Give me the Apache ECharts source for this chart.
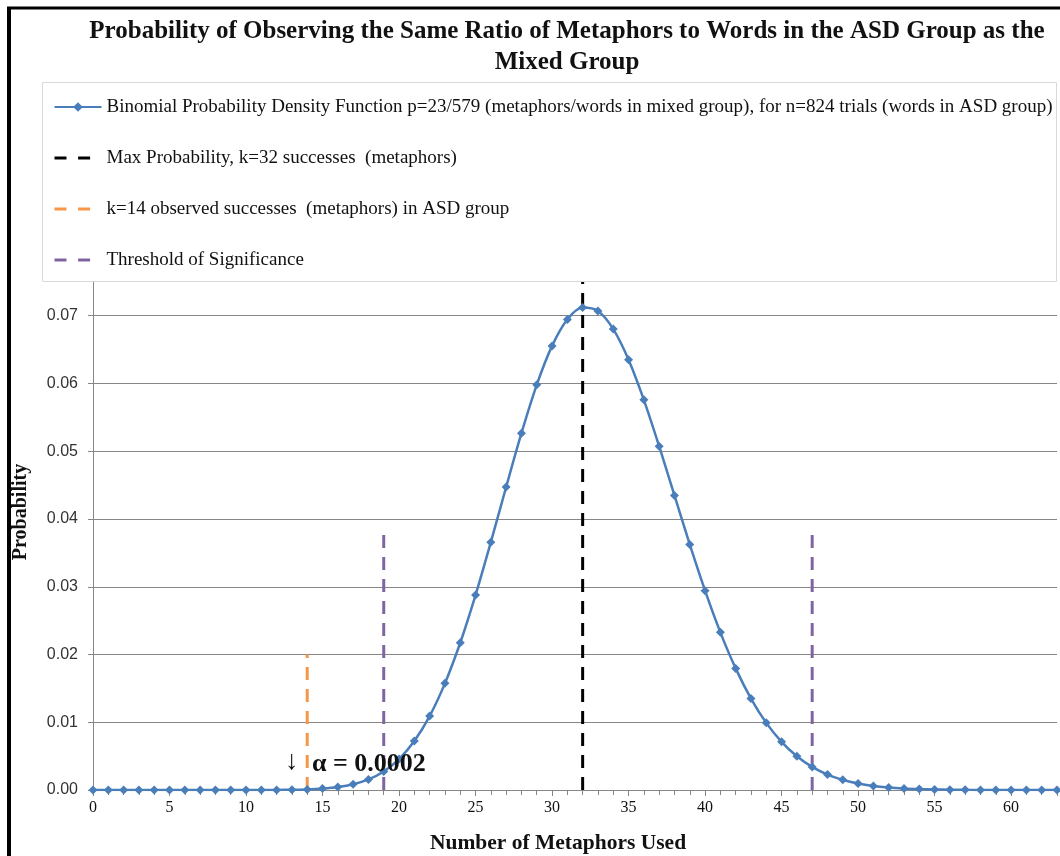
<!DOCTYPE html>
<html>
<head>
<meta charset="utf-8">
<script src="https://cdn.jsdelivr.net/npm/echarts@6/dist/echarts.min.js"></script>
<style>
  html, body { margin: 0; padding: 0; background: #fff; }
  #chart { width: 1060px; height: 856px; }
</style>
</head>
<body>
<div id="chart"></div>
<script>
// ---- data ----
const metaphorCounts = [0,1,2,3,4,5,6,7,8,9,10,11,12,13,14,15,16,17,18,19,20,21,22,23,24,25,26,27,28,29,30,31,32,33,34,35,36,37,38,39,40,41,42,43,44,45,46,47,48,49,50,51,52,53,54,55,56,57,58,59,60,61,62,63];
const probabilities = [0,0,0,0,0,0,0,0,0.0000001,0.0000005,0.0000017,0.0000053,0.0000148,0.0000383,0.0000917,0.000205,0.000428,0.000842,0.001562,0.002741,0.004563,0.007227,0.01091,0.01574,0.02173,0.02877,0.03658,0.04472,0.05266,0.05980,0.06555,0.06945,0.07120,0.07069,0.06803,0.06352,0.05759,0.05074,0.04347,0.03624,0.02942,0.02327,0.01795,0.01350,0.00991,0.00711,0.00498,0.00341,0.00228,0.00150,0.00096,0.00060,0.00037,0.00022,0.00013,0.000076,0.000043,0.000024,0.000013,0.0000071,0.0000037,0.0000019,0.0000010,0.0000005];
const maxLineK = 32, maxLineTop = 0.075;
const observedK = 14, observedTop = 0.02;
const thresholdKs = [19, 47], thresholdTop = 0.0385;
const seriesNames = [
  'Binomial Probability Density Function p=23/579 (metaphors/words in mixed group), for n=824 trials (words in ASD group)',
  'Max Probability, k=32 successes  (metaphors)',
  'k=14 observed successes  (metaphors) in ASD group',
  'Threshold of Significance'
];
const titleText = 'Probability of Observing the Same Ratio of Metaphors to Words in the ASD Group as the\nMixed Group';
const xTitle = 'Number of Metaphors Used';
const yTitle = 'Probability';
const annotationArrow = '↓';
const annotationText = 'α = 0.0002';

const curve = metaphorCounts.map((k, i) => [k, probabilities[i]]);
const SERIF = '"Liberation Serif", "Times New Roman", serif';
const dash = [13, 9];
const legendDash = [12, 11.6];

const series = [
  { name: seriesNames[1], type: 'line', data: [[maxLineK, 0], [maxLineK, maxLineTop]], symbol: 'none',
    lineStyle: { color: '#000', width: 3, type: dash }, itemStyle: { color: '#000' }, z: 3 },
  { name: seriesNames[2], type: 'line', data: [[observedK, 0], [observedK, observedTop]], symbol: 'none',
    lineStyle: { color: '#F79646', width: 3, type: dash }, itemStyle: { color: '#F79646' }, z: 3 },
  ...thresholdKs.map(k => ({ name: seriesNames[3], type: 'line', data: [[k, 0], [k, thresholdTop]], symbol: 'none',
    lineStyle: { color: '#8064A2', width: 3, type: dash }, itemStyle: { color: '#8064A2' }, z: 3 })),
  { name: seriesNames[0], type: 'line', data: curve, smooth: 0.3, symbol: 'diamond', symbolSize: 9,
    lineStyle: { color: '#4A7EBB', width: 2.5 }, itemStyle: { color: '#4A7EBB' }, z: 4 }
];

const chart = echarts.init(document.getElementById('chart'), null, { renderer: 'canvas' });
chart.setOption({
  backgroundColor: '#fff',
  animation: false,
  title: {
    text: titleText, left: 562, top: 11, textAlign: 'center',
    textStyle: { fontFamily: SERIF, fontWeight: 'bold', fontSize: 25, lineHeight: 31, color: '#111' }
  },
  legend: {
    orient: 'vertical', left: 53, top: 96, z: 101, padding: 0,
    data: [
      { name: seriesNames[0] },
      { name: seriesNames[1], itemStyle: { opacity: 0 }, lineStyle: { type: legendDash, width: 3 } },
      { name: seriesNames[2], itemStyle: { opacity: 0 }, lineStyle: { type: legendDash, width: 3 } },
      { name: seriesNames[3], itemStyle: { opacity: 0 }, lineStyle: { type: legendDash, width: 3 } }
    ],
    itemWidth: 47, itemHeight: 12, itemGap: 29,
    textStyle: { fontFamily: SERIF, fontSize: 19, color: '#111', lineHeight: 22 },
    selectedMode: false
  },
  grid: { left: 93, right: 3, top: 248, bottom: 66, containLabel: false, outerBoundsMode: 'none' },
  xAxis: {
    type: 'value', min: 0, max: 63, interval: 5,
    name: xTitle, nameLocation: 'middle', nameGap: 42,
    nameTextStyle: { fontFamily: SERIF, fontWeight: 'bold', fontSize: 21.5, color: '#111', padding: [0, 34, 0, 0] },
    axisLine: { lineStyle: { color: '#868686', width: 1 } },
    axisTick: { show: true, length: 6, lineStyle: { color: '#868686' } },
    minorTick: { show: true, splitNumber: 5, length: 5, lineStyle: { color: '#868686' } },
    axisLabel: { fontFamily: SERIF, fontSize: 16, color: '#111', margin: 10, showMaxLabel: false },
    splitLine: { show: false }
  },
  yAxis: {
    type: 'value', min: 0, max: 0.08, interval: 0.01,
    name: yTitle, nameLocation: 'middle', nameGap: 62, nameRotate: 90,
    nameTextStyle: { fontFamily: SERIF, fontWeight: 'bold', fontSize: 20, color: '#111', padding: [0, 0, 0, 14] },
    axisLine: { show: true, lineStyle: { color: '#868686', width: 1 } },
    axisTick: { show: true, length: 5, lineStyle: { color: '#868686' } },
    axisLabel: { fontFamily: '"Liberation Sans", Arial, sans-serif', fontSize: 16, color: '#333', margin: 15,
      formatter: v => v.toFixed(2) },
    splitLine: { show: true, lineStyle: { color: '#868686', width: 1 } }
  },
  graphic: [
    { type: 'rect', z: 100, shape: { x: 42.5, y: 82.5, width: 1014, height: 199 },
      style: { fill: '#fff', stroke: '#d9d9d9', lineWidth: 1 } },
    { type: 'text', z: 100, left: 285, top: 748,
      style: { text: annotationArrow, fontFamily: SERIF, fontSize: 27, fill: '#111' } },
    { type: 'text', z: 100, left: 312, top: 751,
      style: { text: annotationText, fontFamily: SERIF, fontSize: 26, fontWeight: 'bold', fill: '#111' } },
    { type: 'line', z: 100, shape: { x1: 7, y1: 8, x2: 1060, y2: 8 }, style: { stroke: '#000', lineWidth: 3 } },
    { type: 'line', z: 100, shape: { x1: 9, y1: 7, x2: 9, y2: 856 }, style: { stroke: '#000', lineWidth: 4 } }
  ],
  series: series
});
</script>
</body>
</html>
